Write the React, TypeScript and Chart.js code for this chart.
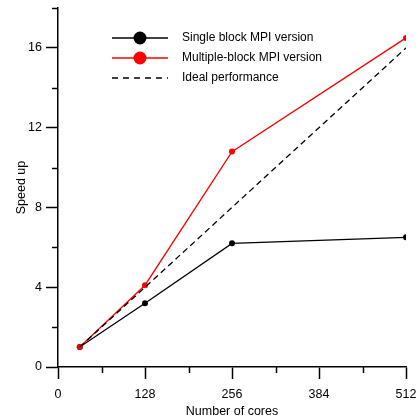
import React, { useEffect, useRef } from "react";
import { Chart, registerables } from "chart.js";

Chart.register(...registerables);

const cores = [32, 128, 256, 512];
const singleBlock = [1, 3.2, 6.2, 6.5];
const multiBlock = [1, 4.1, 10.8, 16.5];
const idealCores = [32, 512];
const idealSpeed = [1, 16];
const legendLabels = ["Single block MPI version", "Multiple-block MPI version", "Ideal performance"];

const FONT = "'Liberation Sans', Arial, sans-serif";

const axisPlugin = {
  id: "minorTicks",
  afterDraw(chart: any) {
    const ctx = chart.ctx;
    const xs = chart.scales.x;
    const ys = chart.scales.y;
    const area = chart.chartArea;
    ctx.save();
    ctx.strokeStyle = "#000";
    ctx.lineWidth = 1.5;
    ctx.beginPath();
    xs.ticks.forEach((t: any) => {
      if (t.value % 128 !== 0) {
        const px = Math.round(xs.getPixelForValue(t.value)) + 0.5;
        ctx.moveTo(px, area.bottom);
        ctx.lineTo(px, area.bottom + 6);
      }
    });
    ys.ticks.forEach((t: any) => {
      if (t.value % 4 !== 0) {
        const py = Math.round(ys.getPixelForValue(t.value)) + 0.5;
        ctx.moveTo(area.left, py);
        ctx.lineTo(area.left - 6, py);
      }
    });
    ctx.stroke();

    // legend
    const lx0 = 112, lx1 = 168, cx = 140, tx = 182;
    const rows = [38, 58, 78];
    ctx.font = `12px ${FONT}`;
    ctx.textBaseline = "middle";
    ctx.textAlign = "left";
    const colors = ["#000000", "#ff0000", "#000000"];
    rows.forEach((ry, i) => {
      ctx.beginPath();
      ctx.strokeStyle = colors[i];
      ctx.lineWidth = 1.3;
      if (i === 2) ctx.setLineDash([6, 5]);
      else ctx.setLineDash([]);
      ctx.moveTo(lx0, ry);
      ctx.lineTo(lx1, ry);
      ctx.stroke();
      ctx.setLineDash([]);
      if (i < 2) {
        ctx.beginPath();
        ctx.fillStyle = colors[i];
        ctx.arc(cx, ry, 6.5, 0, Math.PI * 2);
        ctx.fill();
      }
      ctx.fillStyle = "#000";
      ctx.fillText(legendLabels[i], tx, ry);
    });
    ctx.restore();
  },
};

export default function App() {
  const ref = useRef<HTMLCanvasElement>(null);
  useEffect(() => {
    const canvas = ref.current!;
    const chart = new Chart(canvas, {
      type: "line",
      data: {
        datasets: [
          {
            label: legendLabels[2],
            data: idealCores.map((x, i) => ({ x, y: idealSpeed[i] })),
            borderColor: "#000",
            borderWidth: 1.3,
            borderDash: [6, 4],
            pointRadius: 0,
            order: 0,
          },
          {
            label: legendLabels[1],
            data: cores.map((x, i) => ({ x, y: multiBlock[i] })),
            borderColor: "#ff0000",
            backgroundColor: "#ff0000",
            borderWidth: 1.3,
            pointRadius: 3,
            pointBorderWidth: 0,
            order: 1,
          },
          {
            label: legendLabels[0],
            data: cores.map((x, i) => ({ x, y: singleBlock[i] })),
            borderColor: "#000",
            backgroundColor: "#000",
            borderWidth: 1.3,
            pointRadius: 3,
            pointBorderWidth: 0,
            order: 2,
          },
        ],
      },
      options: {
        responsive: false,
        animation: false,
        devicePixelRatio: 1,
        layout: { padding: { left: 0, top: 8, right: 12, bottom: 0 } },
        plugins: { legend: { display: false }, tooltip: { enabled: false } },
        scales: {
          x: {
            type: "linear",
            min: 0,
            max: 512,
            afterFit: (s: any) => {
              s.height = 50;
              s.paddingLeft = 0;
              s.paddingRight = 0;
            },
            border: { color: "#000", width: 1.5 },
            grid: {
              drawOnChartArea: false,
              drawTicks: true,
              tickLength: 12,
              tickWidth: 1.5,
              tickColor: (c: any) => (c.tick && c.tick.value % 128 === 0 ? "#000" : "rgba(0,0,0,0)"),
            },
            ticks: {
              stepSize: 64,
              autoSkip: false,
              maxRotation: 0,
              padding: 8,
              color: "#000",
              font: { family: FONT, size: 12.5 },
              callback: (v: any) => (v % 128 === 0 ? String(v) : ""),
            },
            title: {
              display: true,
              text: "Number of cores",
              color: "#000",
              font: { family: FONT, size: 12.5 },
              padding: { top: 0, bottom: -2 },
            },
          },
          y: {
            type: "linear",
            min: 0,
            max: 18,
            afterFit: (s: any) => {
              s.width = 58;
              s.paddingTop = 0;
              s.paddingBottom = 0;
            },
            border: { color: "#000", width: 1.5 },
            grid: {
              drawOnChartArea: false,
              drawTicks: true,
              tickLength: 12,
              tickWidth: 1.5,
              tickColor: (c: any) => (c.tick && c.tick.value % 4 === 0 ? "#000" : "rgba(0,0,0,0)"),
            },
            ticks: {
              stepSize: 2,
              autoSkip: false,
              padding: 4,
              color: "#000",
              font: { family: FONT, size: 12.5 },
              callback: (v: any) => (v % 4 === 0 ? String(v) : ""),
            },
            title: {
              display: true,
              text: "Speed up",
              color: "#000",
              font: { family: FONT, size: 12.5 },
              padding: { top: 14, bottom: 0 },
            },
          },
        },
      },
      plugins: [axisPlugin],
    } as any);
    return () => chart.destroy();
  }, []);
  return (
    <div style={{ position: "absolute", left: 0, top: 0, width: 418, height: 417, background: "#fff" }}>
      <canvas ref={ref} width={418} height={417} />
    </div>
  );
}
